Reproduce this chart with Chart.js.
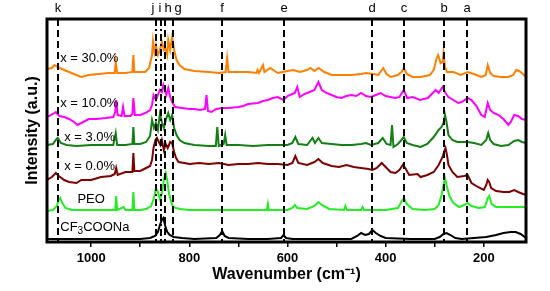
<!DOCTYPE html>
<html>
<head>
<meta charset="utf-8">
<script src="https://cdn.jsdelivr.net/npm/chart.js@4.4.0/dist/chart.umd.min.js"></script>
<style>
  html, body { margin: 0; padding: 0; background: #fff; }
  #wrap { width: 550px; height: 291px; }
</style>
</head>
<body>
<div id="wrap"><canvas id="ramanChart" width="550" height="291"></canvas></div>
<script>
// Raman spectra, stacked traces (intensity already offset per trace)
var xLabels = [1000, 800, 600, 400, 200];

var markLetters = ['a', 'b', 'c', 'd', 'e', 'f', 'g', 'h', 'i', 'j', 'k'];
var markWaves = [234, 282, 363, 427, 608, 733, 833, 850, 857, 868, 1068];

var traceNames = ['CF3COONa', 'PEO', 'x = 0.0%', 'x = 3.0%', 'x = 10.0%', 'x = 30.0%'];

var cfWave = [1090, 900, 880, 870, 864, 860, 856, 853, 849, 845,
              840, 832, 815, 790, 745, 738, 733, 728, 720, 680,
              640, 613, 608, 603, 590, 520, 470, 458, 450, 442,
              434, 427, 420, 410, 400, 350, 300, 290, 282, 276,
              268, 258, 245, 220, 195, 175, 160, 145, 135, 125,
              114];
var cfInt = [1, 1, 2, 4, 8, 15, 20, 22, 14, 8,
             5, 3, 2, 1, 2, 5, 9, 4, 2, 1,
             1, 2, 5, 2, 1, 1, 1, 4, 7, 5,
             6, 10, 7, 4, 2, 1, 1, 3, 6, 7,
             5, 2, 1, 2, 3, 5, 7, 8, 8, 6,
             2];

var peoWave = [1090, 1078, 1070, 1066, 1063, 1059, 1052, 1040, 1000, 960,
               951, 949, 947, 938, 934, 930, 916, 914, 912, 900,
               888, 878, 872, 868, 864, 860, 856, 852, 848, 845,
               842, 838, 834, 828, 818, 800, 760, 700, 642, 640,
               638, 600, 590, 585, 580, 560, 545, 537, 530, 515,
               485, 482, 479, 450, 447, 444, 400, 375, 368, 363,
               357, 345, 320, 300, 292, 286, 282, 279, 276, 270,
               262, 250, 240, 233, 225, 210, 198, 192, 189, 184,
               175, 160, 140, 114];
var peoInt = [29, 30, 34, 40, 42, 37, 32, 30, 30, 30,
              30, 44, 30, 32, 33, 30, 30, 48, 30, 30,
              31, 34, 42, 52, 48, 41, 46, 60, 67, 60,
              48, 40, 34, 32, 31, 30, 30, 30, 30, 36,
              30, 30, 32, 35, 32, 31, 34, 38, 35, 31,
              30, 34, 30, 30, 33, 30, 30, 32, 38, 42,
              36, 31, 30, 31, 35, 45, 55, 62, 55, 44,
              37, 33, 35, 37, 34, 32, 33, 42, 44, 36,
              33, 33, 33, 33];

var x0Wave = [1090, 1080, 1072, 1066, 1055, 1045, 1030, 1020, 1000, 980,
              960, 952, 949, 946, 930, 916, 914, 912, 900, 888,
              880, 876, 873, 869, 866, 862, 859, 856, 852, 848,
              844, 839, 835, 831, 827, 822, 810, 800, 780, 760,
              740, 720, 700, 680, 660, 640, 620, 600, 590, 584,
              578, 560, 545, 537, 528, 510, 495, 480, 465, 450,
              435, 427, 418, 408, 400, 390, 380, 372, 365, 360,
              352, 335, 329, 315, 302, 292, 284, 281, 278, 275,
              272, 264, 254, 240, 233, 225, 212, 200, 195, 192,
              189, 185, 175, 160, 148, 138, 130, 120, 114];
var x0Int = [60, 63, 67, 64, 60, 58, 57, 60, 60, 63,
             64, 66, 72, 65, 68, 68, 87, 69, 69, 72,
             74, 80, 92, 100, 102, 98, 95, 100, 90, 96,
             92, 98, 97, 88, 82, 78, 77, 76, 77, 76,
             77, 75, 76, 76, 77, 76, 76, 75, 77, 84,
             77, 75, 78, 81, 77, 74, 73, 75, 73, 72,
             71, 70, 72, 77, 73, 68, 67, 70, 75, 72,
             65, 66, 63, 65, 68, 75, 83, 88, 92, 85,
             75, 68, 63, 64, 65, 57, 53, 50, 55, 60,
             58, 52, 49, 48, 48, 50, 48, 46, 45];

var x3Wave = [1090, 1078, 1072, 1068, 1062, 1050, 1030, 1000, 970, 955,
              950, 947, 930, 916, 914, 912, 900, 888, 880, 876,
              872, 868, 864, 860, 856, 852, 848, 843, 839, 835,
              831, 826, 820, 810, 790, 760, 746, 743, 740, 730,
              727, 724, 700, 670, 640, 620, 600, 590, 584, 578,
              560, 549, 544, 537, 530, 510, 490, 470, 450, 440,
              430, 415, 406, 398, 390, 387, 384, 375, 368, 363,
              357, 345, 329, 315, 302, 292, 286, 282, 279, 276,
              272, 264, 254, 233, 220, 205, 195, 191, 187, 180,
              165, 150, 138, 130, 122, 114];
var x3Int = [95, 96, 100, 102, 97, 95, 94, 95, 95, 95,
             107, 95, 95, 96, 113, 96, 96, 98, 104, 120,
             112, 117, 110, 126, 118, 112, 120, 127, 120, 125,
             112, 105, 100, 97, 95, 94, 94, 113, 94, 96,
             105, 95, 95, 94, 95, 95, 95, 97, 103, 96,
             95, 102, 97, 102, 97, 96, 95, 95, 96, 97,
             95, 97, 102, 96, 95, 115, 93, 96, 100, 103,
             97, 95, 93, 96, 103, 110, 113, 117, 125, 118,
             105, 100, 98, 98, 97, 95, 100, 107, 100, 96,
             94, 95, 99, 100, 98, 97];

var x10Wave = [1090, 1078, 1072, 1065, 1055, 1045, 1035, 1028, 1020, 1005,
               990, 970, 955, 951, 949, 946, 938, 935, 932, 920,
               916, 914, 911, 900, 890, 880, 876, 873, 868, 864,
               860, 856, 853, 847, 843, 839, 835, 829, 815, 800,
               790, 778, 768, 765, 762, 755, 745, 733, 720, 700,
               690, 680, 660, 650, 640, 630, 620, 608, 600, 595,
               585, 580, 575, 565, 555, 545, 537, 530, 520, 510,
               500, 490, 480, 470, 460, 450, 440, 430, 420, 410,
               400, 390, 380, 372, 363, 356, 345, 330, 314, 298,
               292, 284, 278, 272, 262, 252, 245, 233, 225, 215,
               205, 198, 192, 187, 180, 170, 160, 150, 145, 138,
               130, 122, 114];
var x10Int = [123, 126, 128, 124, 123, 121, 118, 115, 117, 121,
              121, 122, 123, 128, 140, 125, 124, 133, 124, 124,
              126, 142, 125, 125, 127, 130, 135, 145, 140, 145,
              150, 148, 155, 145, 152, 143, 138, 133, 132, 131,
              131, 130, 131, 145, 129, 128, 131, 132, 132, 133,
              134, 136, 137, 139, 140, 142, 143, 140, 144, 145,
              147, 153, 143, 146, 148, 150, 158, 150, 147, 145,
              143, 142, 144, 145, 144, 147, 144, 143, 145, 147,
              144, 143, 142, 143, 150, 142, 143, 140, 142, 150,
              147, 153, 147, 143, 140, 137, 138, 142, 140, 134,
              125, 123, 137, 130, 127, 125, 121, 115, 118, 125,
              124, 121, 120];

var x30Wave = [1090, 1080, 1075, 1068, 1060, 1045, 1030, 1020, 1005, 985,
               965, 952, 950, 947, 930, 916, 914, 912, 900, 890,
               882, 876, 874, 871, 868, 864, 860, 856, 852, 849,
               845, 843, 839, 835, 831, 826, 820, 810, 790, 760,
               740, 726, 723, 720, 700, 680, 663, 661, 658, 650,
               647, 635, 620, 600, 588, 575, 560, 553, 545, 537,
               525, 510, 490, 470, 450, 440, 425, 415, 405, 398,
               390, 375, 368, 363, 357, 345, 329, 310, 302, 296,
               293, 288, 284, 282, 279, 275, 262, 247, 233, 220,
               205, 196, 192, 187, 180, 165, 150, 140, 134, 128,
               120, 114];
var x30Int = [171, 172, 175, 173, 171, 168, 165, 163, 165, 166,
              167, 167, 178, 167, 167, 168, 185, 168, 168, 168,
              172, 185, 199, 188, 195, 185, 190, 198, 190, 192,
              185, 200, 190, 203, 190, 180, 175, 171, 169, 168,
              167, 168, 182, 168, 168, 168, 167, 170, 167, 175,
              168, 172, 167, 169, 170, 168, 170, 172, 169, 172,
              168, 165, 165, 165, 166, 167, 166, 165, 172, 166,
              163, 165, 168, 172, 166, 163, 163, 165, 170, 182,
              185, 177, 178, 187, 173, 168, 168, 165, 168, 166,
              163, 165, 175, 167, 164, 163, 163, 165, 170, 169,
              166, 163];

function toPoints(waves, vals) {
  var pts = [];
  for (var i = 0; i < waves.length; i++) pts.push({ x: waves[i], y: vals[i] });
  return pts;
}

var fontFam = '"Liberation Sans", Arial, sans-serif';
Chart.defaults.font.family = fontFam;
Chart.defaults.color = '#000';

function traceSet(name, waves, vals, color) {
  return {
    label: name,
    data: toPoints(waves, vals),
    borderColor: color,
    borderWidth: 2,
    pointRadius: 0,
    fill: false,
    tension: 0
  };
}

// dashed markers, letters and trace labels
var overlayPlugin = {
  id: 'overlay',
  afterDatasetsDraw: function(chart) {
    var ctx = chart.ctx, xs = chart.scales.x, ys = chart.scales.y, area = chart.chartArea;
    ctx.save();
    ctx.strokeStyle = '#000';
    ctx.lineWidth = 2;
    var nudge = { j: -3, i: -1, h: 3, g: 5 };
    for (var i = 0; i < markWaves.length; i++) {
      var px = Math.round(xs.getPixelForValue(markWaves[i]));
      var letter = markLetters[i];
      ctx.setLineDash(letter === 'j' || letter === 'i' ? [7, 3, 2, 3] : [7, 4]);
      ctx.beginPath();
      ctx.moveTo(px, area.top);
      ctx.lineTo(px, area.bottom);
      ctx.stroke();
      ctx.setLineDash([]);
      ctx.fillStyle = '#000';
      ctx.font = '13px ' + fontFam;
      ctx.textAlign = 'center';
      ctx.textBaseline = 'middle';
      ctx.fillText(letter, px + (nudge[letter] || 0), 8);
    }
    ctx.setLineDash([]);
    ctx.lineWidth = 3;
    ctx.strokeRect(area.left, area.top, area.right - area.left, area.bottom - area.top);

    // trace names
    ctx.font = '13px ' + fontFam;
    ctx.textAlign = 'left';
    ctx.textBaseline = 'middle';
    ctx.fillText(traceNames[5], xs.getPixelForValue(1063), ys.getPixelForValue(182));
    ctx.fillText(traceNames[4], xs.getPixelForValue(1063), ys.getPixelForValue(137));
    ctx.fillText(traceNames[3], xs.getPixelForValue(1055), ys.getPixelForValue(103));
    ctx.fillText(traceNames[2], xs.getPixelForValue(1055), ys.getPixelForValue(74));
    ctx.fillText(traceNames[1], xs.getPixelForValue(1028), ys.getPixelForValue(41));
    // CF3COONa with subscript 3
    var lx = xs.getPixelForValue(1063), ly = ys.getPixelForValue(13);
    ctx.fillText('CF', lx, ly);
    lx += ctx.measureText('CF').width;
    ctx.font = '10px ' + fontFam;
    ctx.fillText('3', lx, ly + 4);
    lx += ctx.measureText('3').width;
    ctx.font = '13px ' + fontFam;
    ctx.fillText('COONa', lx, ly);
    ctx.restore();
  }
};

var ctx = document.getElementById('ramanChart').getContext('2d');
var ramanChart = new Chart(ctx, {
  type: 'line',
  data: {
    datasets: [
      traceSet(traceNames[0], cfWave, cfInt, '#000000'),
      traceSet(traceNames[1], peoWave, peoInt, '#22ee22'),
      traceSet(traceNames[2], x0Wave, x0Int, '#800000'),
      traceSet(traceNames[3], x3Wave, x3Int, '#138013'),
      traceSet(traceNames[4], x10Wave, x10Int, '#ff00ff'),
      traceSet(traceNames[5], x30Wave, x30Int, '#ff8000')
    ]
  },
  options: {
    responsive: false,
    animation: false,
    devicePixelRatio: 1,
    layout: { padding: { top: 19, right: 24, bottom: 0, left: 0 } },
    plugins: { legend: { display: false }, tooltip: { enabled: false } },
    scales: {
      x: {
        type: 'linear',
        reverse: true,
        min: 114,
        max: 1090,
        border: { display: false },
        grid: { display: true, drawOnChartArea: false, drawTicks: true, tickLength: 5, color: '#000', lineWidth: 1.5 },
        ticks: {
          stepSize: 100,
          includeBounds: false,
          autoSkip: false,
          maxRotation: 0,
          padding: 4,
          color: '#000',
          font: { size: 13, weight: 'bold' },
          callback: function(v) { return xLabels.indexOf(v) >= 0 ? String(v) : ''; }
        },
        title: {
          display: true,
          text: 'Wavenumber (cm\u207B\u00B9)',
          color: '#000',
          font: { size: 16, weight: 'bold' },
          padding: { top: 0, bottom: 7 }
        },
        afterFit: function(s) { s.height = 49; }
      },
      y: {
        min: -2,
        max: 221,
        border: { display: false },
        grid: { display: false, drawTicks: false },
        ticks: { display: false },
        title: {
          display: true,
          text: 'Intensity (a.u.)',
          color: '#000',
          font: { size: 16, weight: 'bold' },
          padding: { top: 23, bottom: 0 }
        },
        afterFit: function(s) { s.width = 47; }
      }
    }
  },
  plugins: [overlayPlugin]
});
</script>
</body>
</html>
